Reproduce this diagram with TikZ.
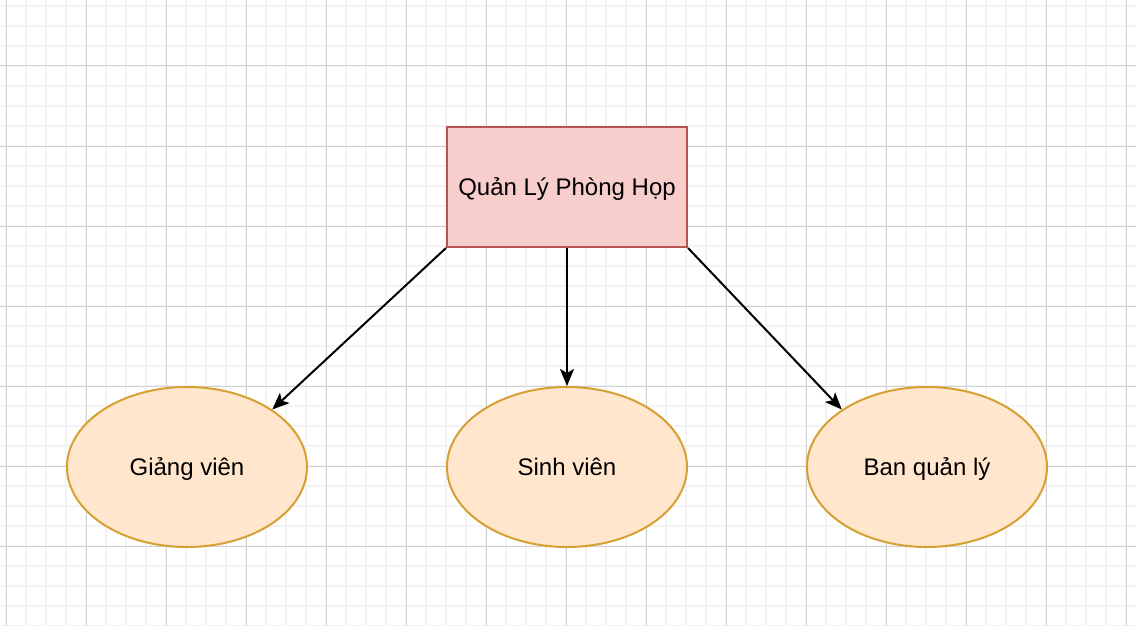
\documentclass[tikz,border=0pt]{standalone}
\usepackage{fontspec}
\setmainfont{Liberation Sans}
\usetikzlibrary{shapes.geometric,arrows.meta}
\definecolor{minorgrid}{HTML}{F3F3F3}
\definecolor{majorgrid}{HTML}{D2D2D2}
\definecolor{boxfill}{HTML}{F8CECC}
\definecolor{boxdraw}{HTML}{B85450}
\definecolor{ellfill}{HTML}{FFE6CC}
\definecolor{elldraw}{HTML}{D6A033}
\begin{document}
\begin{tikzpicture}[x=1pt,y=-1pt,
  label text/.style={font=\fontsize{24}{28}\selectfont,text height=22pt,text depth=5pt},
  rootbox/.style={label text,draw=boxdraw,fill=boxfill,line width=2pt,minimum width=240pt,minimum height=120pt,inner sep=0pt},
  actor/.style={label text,ellipse,draw=elldraw,fill=ellfill,line width=2pt,minimum width=240pt,minimum height=160pt,inner sep=0pt},
  link/.style={line width=2pt,-{Stealth[length=17pt,width=14pt,inset=4pt]}}]
\useasboundingbox (0,0) rectangle (1136,626);
\fill[white] (0,0) rectangle (1136,626);
% minor grid
\foreach \k in {0,...,56} {
  \draw[minorgrid,line width=2pt] (6+20*\k,0) -- (6+20*\k,626);
}
\foreach \k in {0,...,31} {
  \draw[minorgrid,line width=2pt] (0,6+20*\k) -- (1136,6+20*\k);
}
% major grid
\foreach \k in {0,...,14} {
  \draw[majorgrid,line width=1pt] (6+80*\k,0) -- (6+80*\k,626);
}
\foreach \k in {0,...,7} {
  \draw[majorgrid,line width=1pt] (0,66+80*\k) -- (1136,66+80*\k);
}
\node[rootbox] (q) at (567,187) {Quản Lý Phòng Họp};
\node[actor] (g) at (187,467) {Giảng viên};
\node[actor] (s) at (567,467) {Sinh viên};
\node[actor] (b) at (927,467) {Ban quản lý};
\draw[link] (q.south west) -- (g.34);
\draw[link] (q.south) -- (s.north);
\draw[link] (q.south east) -- (b.146);
\end{tikzpicture}
\end{document}
